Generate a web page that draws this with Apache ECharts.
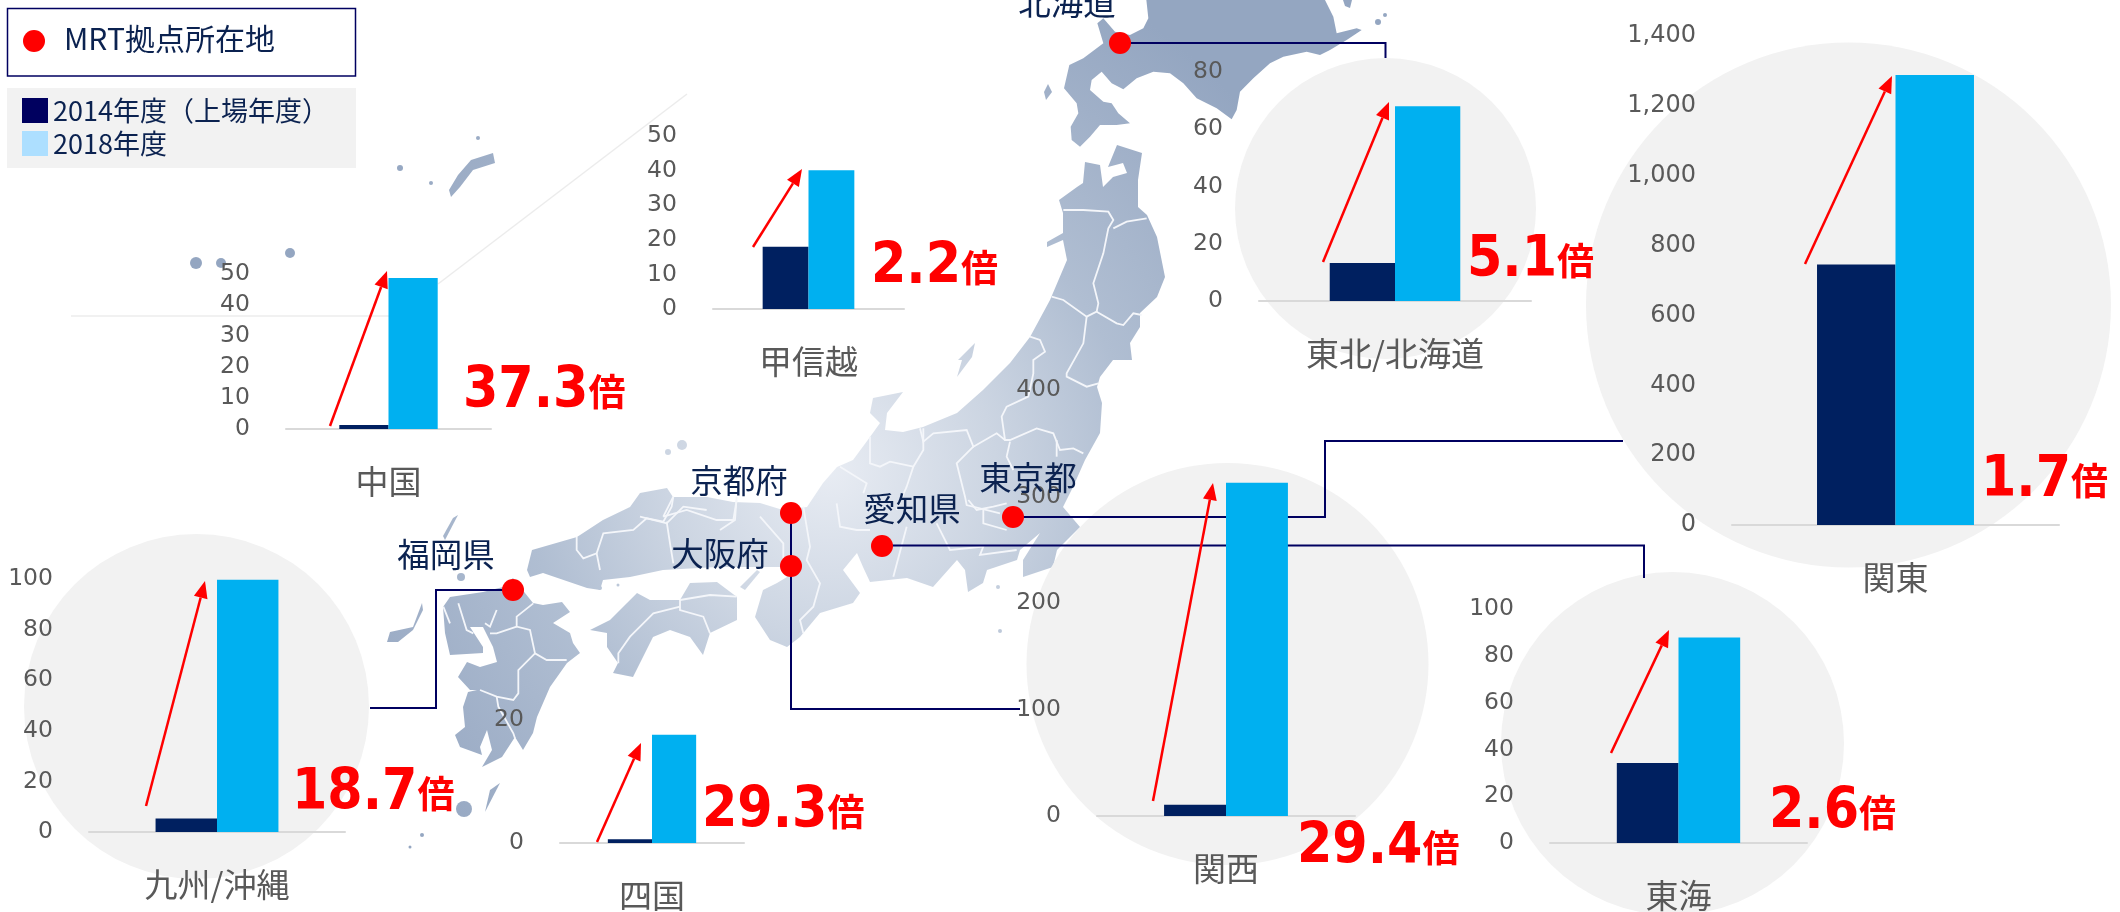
<!DOCTYPE html>
<html><head><meta charset="utf-8">
<style>html,body{margin:0;padding:0;background:#fff;overflow:hidden}#c{width:2120px;height:912px}</style>
<script src="https://cdn.jsdelivr.net/npm/echarts@6/dist/echarts.min.js"></script>
</head><body><div id="c"></div>
<script>
// ---- data ----
const regions   = ['中国','甲信越','東北/北海道','関東','九州/沖縄','四国','関西','東海'];
const fy2014    = [1.3, 18, 13.3, 746, 5.3, 0.6, 10.6, 34.2];
const fy2018    = [48.7, 40.1, 68, 1288, 99.7, 17.6, 313, 87.8];
const axisMax   = [50, 50, 80, 1400, 100, 20, 400, 100];
const axisStep  = [10, 10, 20, 200, 20, 20, 100, 20];
const multiples = ['37.3','2.2','5.1','1.7','18.7','29.3','29.4','2.6'];
const seriesNames = ['2014年度（上場年度）','2018年度'];
const cityNames = ['北海道','東京都','愛知県','京都府','大阪府','福岡県'];
const cityMapX  = [1120,1013,882,791,791,513];
const cityMapY  = [43,517,546,513,566,590];
const siteLegend = 'MRT拠点所在地';

// ---- layout (pixels) ----
const plotLeft  = [286,713,1259,1732,89,560,1097,1550];
const plotRight = [491,904,1531,2059,345,744,1355,1807];
const plotBase  = [428,308,300,524,831,843,815,846];
const plotTop   = [274,136,72,36,579,720,390,609];
const circles   = [null,null,[1385.5,208.5,150.5],[1848.5,305,262.5],[196.5,706.5,172.5],null,[1227.5,664,201],[1672.5,743.5,171.5]];
const multLeft  = [463,871,1467,1981,292,702,1297,1769];
const multMid   = [392,268,261,481,794,812,848,813];
const arrows    = [[330,426,387,271],[753,247,802,169],[1323,262,1389,102],[1805,264,1892,76],[146,806,205,581],[597,842,641,743],[1153,801,1213,483],[1611,753,1669,630]];
const cityLabelPos = [[1067,3],[1028,478],[912,509],[739,481],[720,554],[446,555]];
const connectors = [
  [[1120,43],[1385.5,43],[1385.5,58]],
  [[1013,517],[1325,517],[1325,441],[1623,441]],
  [[882,545.5],[1644,545.5],[1644,578]],
  [[791,513],[791,709],[1020,709]],
  [[513,590],[436,590],[436,708],[370,708]]
];
const NAVY='#000060', GREY='#595959', CJK='"Noto Sans CJK JP"';

// ---- map outline (decorative background) ----
const Z=(ox,oy,a)=>{const r=[];for(let i=0;i<a.length;i+=2)r.push([ox+a[i]/3,oy+a[i+1]/3]);return r;};
const landFill={type:'radial',x:830,y:470,r:550,global:true,colorStops:[
  {offset:0,color:'#e8ecf3'},{offset:.3,color:'#ccd5e2'},{offset:.55,color:'#b0bed2'},{offset:.8,color:'#a0b0c8'},{offset:1,color:'#94a6c1'}]};
const land=[
 Z(1040,0,[172,70,190,55,225,95,270,105,310,85,325,55,318,-10,850,-10,880,50,890,100,950,85,965,90,920,120,870,150,840,165,800,155,730,170,690,190,640,235,600,275,590,330,575,358,530,325,470,295,430,250,390,220,340,215,290,235,250,268,215,250,185,215,155,240,150,270,190,305,215,310,235,340,270,370,230,375,180,375,150,410,120,440,95,420,92,380,115,340,110,310,72,265,88,195,130,175,190,130]),
 [[1117,145],[1142,153],[1138,180],[1138,207],[1147,215],[1157,237],[1165,277],[1157,297],[1140,313],[1140,327],[1130,343],[1132,360],[1113,360],[1100,377],[1097,387],[1102,403],[1100,433],[1085,460],[1073,487],[1063,507],[1080,527],[1057,550],[1053,567],[1023,577],[1023,560],[1040,533],[1020,550],[1017,560],[987,570],[983,583],[968,592],[965,570],[957,560],[933,587],[907,578],[870,582],[863,567],[857,553],[843,570],[860,593],[853,603],[820,613],[800,637],[787,647],[770,640],[755,617],[763,590],[777,583],[787,577],[783,567],[773,567],[717,567],[663,570],[630,577],[603,580],[600,590],[587,588],[543,573],[530,577],[527,570],[532,550],[577,537],[603,520],[630,507],[640,493],[667,488],[673,497],[707,497],[733,502],[760,503],[783,510],[807,507],[823,483],[837,467],[853,460],[870,437],[880,423],[870,413],[873,398],[903,392],[887,413],[885,430],[903,432],[923,427],[957,413],[983,390],[1010,363],[1030,337],[1050,300],[1067,260],[1063,240],[1047,247],[1047,242],[1063,233],[1063,213],[1059,200],[1077,187],[1083,183],[1085,162],[1100,165],[1103,187],[1113,177],[1127,173],[1123,163],[1108,167]],
 [[637,593],[650,600],[680,600],[690,583],[717,582],[737,597],[737,620],[710,633],[703,655],[690,637],[670,630],[653,637],[633,677],[613,673],[618,663],[607,647],[607,633],[590,630],[610,620],[627,603]],
 [[513,578],[533,603],[543,605],[562,602],[570,612],[553,623],[570,633],[573,643],[580,653],[567,663],[550,687],[537,717],[533,733],[523,750],[515,737],[502,757],[482,767],[492,750],[487,730],[480,747],[482,755],[460,747],[455,735],[465,727],[463,707],[468,692],[477,690],[470,690],[458,677],[467,662],[480,667],[497,662],[493,647],[483,627],[470,627],[483,647],[483,653],[450,655],[445,633],[443,607],[450,597],[483,592],[503,587]],
 [[975,343],[972,357],[957,377],[962,360],[958,360]],
 [[500,783],[485,812],[490,790]],
 [[458,515],[445,540],[443,536],[453,518]],
 [[422,603],[413,627],[390,632],[387,642],[398,642],[413,630],[423,610]],
 [[740,587],[757,570],[760,572],[745,590]],
 [[493,153],[495,163],[473,170],[460,187],[451,197],[449,190],[458,175],[471,160]],
 [[1044,92],[1048,84],[1052,92],[1046,100]],
 [[1343,0],[1352,0],[1350,8],[1345,6]]
];
const islets=[[464,809,8],[461,577,4],[682,445,5],[196,263,6],[221,263,5],[290,253,5],[998,587,2],[1000,631,2],[668,452,3],[1385,15,2],[1378,22,3],[400,168,3],[431,183,2],[478,138,2],[422,835,2],[410,847,1.5],[600,588,2],[618,585,1.5]];
const borders=[
 Z(900,140,[490,210,550,210,625,215,640,240,625,265,610,340,580,430,595,490,590,515,560,530,490,480,455,470]),
 Z(900,140,[640,265,680,245,740,235]),
 Z(900,140,[590,515,650,550,670,555,700,520,725,525]),
 Z(900,140,[560,530,550,610,500,700,500,710,560,740,595,730]),
 Z(900,140,[390,590,420,600,435,635,400,660,400,700,385,770,320,800,305,830,315,900,330,900,410,865,460,880,480,930,520,925,550,940]),
 Z(900,140,[330,905,320,950,340,990]),Z(900,140,[470,900,470,950]),
 Z(900,140,[315,900,290,880,220,920,200,870,100,880,70,905,60,865]),
 Z(900,140,[220,920,170,970,195,1070,200,1095,300,1120]),
 Z(640,370,[850,175,850,240,820,290,800,350,770,420]),
 Z(640,370,[690,200,690,280,720,290,750,275,820,290]),
 Z(640,370,[600,290,680,340,670,370]),
 Z(640,370,[590,400,600,470,650,480,690,480]),
 Z(640,370,[800,470,760,620]),
 Z(640,370,[985,390,1010,420,1060,410,1100,400]),
 Z(640,370,[1030,420,1030,460,1100,480]),
 Z(640,370,[890,460,930,540,1030,530,1020,555,1130,540]),
 Z(640,370,[490,410,510,530,500,570,540,640,520,710,480,750,490,790]),
 Z(640,370,[360,440,430,520,430,580]),
 Z(640,370,[290,380,285,450,240,480]),
 Z(640,370,[200,420,130,410,80,460,0,440]),
 Z(640,370,[100,380,70,440]),
 Z(370,490,[930,330,930,360,1000,380,1020,430]),
 Z(370,490,[930,350,850,370,780,440,745,490,745,520]),
 Z(370,490,[930,330,1020,315,1100,320]),
 Z(370,490,[620,140,620,180,640,205,680,190,700,130,790,120,830,85,880,95,905,50,910,20]),
 Z(370,490,[680,190,690,240]),Z(370,490,[890,95,900,160,910,220]),
 Z(370,490,[880,80,950,60,1040,90,1090,90,1100,30]),
 Z(370,490,[490,340,440,380,440,410,480,420,495,490,530,510,590,510]),
 Z(370,490,[495,490,445,540,445,610,430,630,380,620,330,600]),
 Z(370,490,[380,620,385,650,430,730,435,745]),
 Z(370,490,[440,410,380,430,360,430]),
 Z(370,490,[380,360,360,410,345,400]),
 Z(370,490,[265,340,290,420,310,430]),
 Z(370,490,[220,350,240,400])
];

// ---- build ----
const grids=[],xAxes=[],yAxes=[],series=[],graphics=[];
land.forEach(p=>graphics.push({type:'polygon',z:-20,silent:true,shape:{points:p},style:{fill:landFill}}));
islets.forEach(c=>graphics.push({type:'circle',z:-20,silent:true,shape:{cx:c[0],cy:c[1],r:c[2]},style:{fill:landFill}}));
borders.forEach(p=>graphics.push({type:'polyline',z:-19,silent:true,shape:{points:p},style:{stroke:'#f4f6fa',lineWidth:1.8,fill:null}}));
[[[71,316],[389,316]],[[438,284],[687,94]]].forEach(p=>graphics.push({type:'polyline',z:-18,silent:true,shape:{points:p},style:{stroke:'#ececec',lineWidth:1.5,fill:null}}));
circles.forEach(c=>{if(c)graphics.push({type:'circle',z:-10,silent:true,shape:{cx:c[0],cy:c[1],r:c[2]},style:{fill:'#f2f2f2'}});});
connectors.forEach(p=>graphics.push({type:'polyline',z:-5,silent:true,shape:{points:p},style:{stroke:NAVY,lineWidth:2,fill:null}}));

regions.forEach((name,i)=>{
  grids.push({left:plotLeft[i],top:plotTop[i],width:plotRight[i]-plotLeft[i],height:plotBase[i]+1-plotTop[i],containLabel:false});
  xAxes.push({gridIndex:i,type:'category',data:[name],axisTick:{show:false},
    axisLine:{lineStyle:{color:'#d9d9d9',width:2}},
    axisLabel:{margin:36,fontFamily:CJK,fontSize:33,color:GREY}});
  yAxes.push({gridIndex:i,type:'value',min:0,max:axisMax[i],interval:axisStep[i],
    axisLine:{show:false},axisTick:{show:false},splitLine:{show:false},
    axisLabel:{margin:36,padding:[0,0,5,0],fontFamily:'"DejaVu Sans"',fontSize:name==='関東'?24:23.5,color:GREY}});
  series.push({name:seriesNames[0],type:'bar',xAxisIndex:i,yAxisIndex:i,data:[fy2014[i]],barWidth:'24%',barGap:0,itemStyle:{color:'#002060'},z:3});
  series.push({name:seriesNames[1],type:'bar',xAxisIndex:i,yAxisIndex:i,data:[fy2018[i]],barWidth:'24%',barGap:0,itemStyle:{color:'#00b0f0'},z:3});
  // growth arrow
  const [x0,y0,x1,y1]=arrows[i],a=Math.atan2(y1-y0,x1-x0),L=17,W=7;
  const bx=x1-L*Math.cos(a),by=y1-L*Math.sin(a);
  graphics.push({type:'polyline',z:10,silent:true,shape:{points:[[x0,y0],[bx,by]]},style:{stroke:'#ff0000',lineWidth:2.5,fill:null}});
  graphics.push({type:'polygon',z:10,silent:true,shape:{points:[[x1,y1],[bx-W*Math.sin(a),by+W*Math.cos(a)],[bx+W*Math.sin(a),by-W*Math.cos(a)]]},style:{fill:'#ff0000'}});
  // multiple
  graphics.push({type:'text',z:12,silent:true,style:{x:multLeft[i],y:multMid[i],verticalAlign:'middle',
    text:'{n|'+multiples[i]+'}{u|倍}',
    rich:{n:{fontFamily:'"DejaVu Sans Condensed","DejaVu Sans"',fontWeight:'bold',fontSize:56.5,fill:'#ff0000',color:'#ff0000'},
          u:{fontFamily:CJK,fontWeight:'bold',fontSize:37,fill:'#ff0000',color:'#ff0000'}}}});
});
// site markers on a plain map plane
const k=regions.length;
grids.push({left:0,top:0,width:2120,height:912});
xAxes.push({gridIndex:k,type:'value',min:0,max:2120,show:false});
yAxes.push({gridIndex:k,type:'value',min:0,max:912,inverse:true,show:false});
series.push({name:siteLegend,type:'scatter',xAxisIndex:k,yAxisIndex:k,symbolSize:22,z:8,clip:false,
  itemStyle:{color:'#ff0000',opacity:1},
  data:cityNames.map((n,i)=>({name:n,value:[cityMapX[i],cityMapY[i]]}))});
cityNames.forEach((n,i)=>graphics.push({type:'text',z:9,silent:true,style:{x:cityLabelPos[i][0],y:cityLabelPos[i][1],text:n,textAlign:'center',verticalAlign:'middle',fontFamily:CJK,fontSize:32.5,fill:'#0b2250'}}));
// legend panels
graphics.push({type:'rect',z:-4,silent:true,shape:{x:7.5,y:8.5,width:348,height:67.5},style:{fill:'#fff',stroke:NAVY,lineWidth:1.5}});
graphics.push({type:'rect',z:-4,silent:true,shape:{x:7,y:88,width:349,height:80},style:{fill:'#f2f2f2'}});
graphics.push({type:'circle',z:5,silent:true,shape:{cx:34,cy:41,r:11},style:{fill:'#ff0000'}});
graphics.push({type:'text',z:5,silent:true,style:{x:64,y:39,text:siteLegend,verticalAlign:'middle',fontFamily:CJK,fontSize:30,fill:'#0b2250'}});

const chart=echarts.init(document.getElementById('c'),null,{renderer:'canvas'});
chart.setOption({animation:false,backgroundColor:'#fff',tooltip:{show:false},
  grid:grids,xAxis:xAxes,yAxis:yAxes,series,graphic:{elements:graphics},
  legend:{left:22,top:97,orient:'vertical',padding:0,itemWidth:26,itemHeight:25,itemGap:6,itemStyle:{borderWidth:0},selectedMode:false,icon:'rect',
    data:[{name:seriesNames[0],itemStyle:{color:'#00005f'}},{name:seriesNames[1],itemStyle:{color:'#addfff'}}],
    textStyle:{fontFamily:CJK,fontSize:27,lineHeight:25,color:'#0b2250'}}});
</script></body></html>
